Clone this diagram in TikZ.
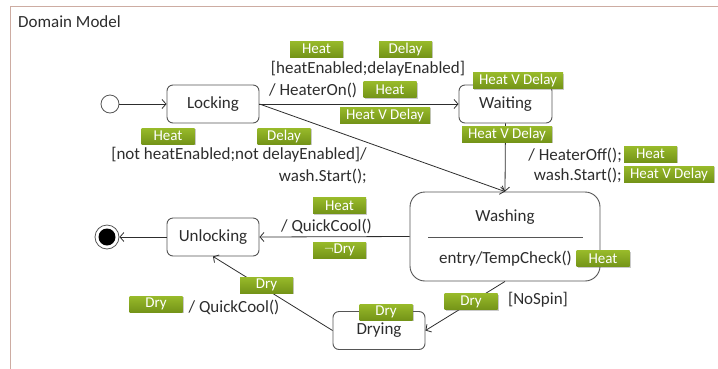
\documentclass[tikz,border=0pt]{standalone}
\usepackage{fontspec}
\setmainfont{Carlito}
\usetikzlibrary{arrows.meta,shadows}
\definecolor{tagtop}{RGB}{152,186,42}
\definecolor{tagbot}{RGB}{116,148,24}
\definecolor{ink}{RGB}{45,45,45}
\definecolor{edge}{RGB}{85,85,85}
\definecolor{framecol}{RGB}{205,172,162}

\tikzset{
  statebox/.style={draw=edge, line width=0.9pt, rounded corners=6pt, fill=white,
    minimum width=92pt, minimum height=38pt, inner sep=0pt,
    font=\fontsize{17}{20}\selectfont, text=ink},
  tag/.style={top color=tagtop, bottom color=tagbot, text=white,
    font=\fontsize{15}{17}\selectfont, minimum width=53pt, minimum height=16pt,
    inner xsep=6pt, inner ysep=0pt,
    drop shadow={opacity=0.35, shadow xshift=1.2pt, shadow yshift=-1.2pt, fill=black!60}},
  lbl/.style={text=ink, font=\fontsize{17}{20}\selectfont, inner sep=0pt},
  flow/.style={draw=ink, line width=0.8pt, -{Straight Barb[length=4pt,width=9pt]}},
}

\begin{document}
\begin{tikzpicture}[x=1pt,y=-1pt]
  \useasboundingbox (0,0) rectangle (718,368);
  % outer frame of the model
  \draw[framecol, line width=0.8pt] (10,372) -- (10,6) -- (722,6);
  \node[lbl, anchor=west] (title) at (18,22) {Domain Model};

  % states
  \node[circle, draw=edge, line width=0.8pt, fill=white, minimum size=18pt, inner sep=0pt] (init) at (110,104) {};
  \node[statebox] (locking) at (213,104) {Locking};
  \node[statebox, minimum width=93pt] (waiting) at (505.5,104) {Waiting};
  \node[statebox, minimum width=190pt, minimum height=89pt, rounded corners=15pt] (washing) at (505,236.5) {};
  \node[lbl] (washname) at (505,217) {Washing};
  \draw[edge, line width=0.9pt] (428,237) -- (583,237);
  \node[lbl] (entry) at (505.5,259) {entry/TempCheck()};
  \node[statebox] (unlocking) at (213,237) {Unlocking};
  \node[statebox] (drying) at (379,330.5) {Drying};
  \node[circle, draw=edge, line width=0.8pt, fill=white, minimum size=24pt, inner sep=0pt] (final) at (107,237) {};
  \node[circle, fill=black, minimum size=17pt, inner sep=0pt] (finaldot) at (107,237) {};

  % transitions
  \draw[flow] (init) -- (locking.west);
  \draw[flow] (locking.east) -- (waiting.west);
  \draw[flow] (locking.east) -- (washing.north);
  \draw[flow] (waiting.south) -- (washing.north);
  \draw[flow] (washing.west) -- (unlocking.east);
  \draw[flow] (unlocking.west) -- (final);
  \draw[flow] (washing.south) -- (drying.east);
  \draw[flow] (drying.west) -- (unlocking.south);

  % Locking -> Waiting
  \node[tag] (t1) at (316.5,49) {Heat};
  \node[tag] (t2) at (405.5,49) {Delay};
  \node[lbl] (g1) at (368,69) {[heatEnabled;delayEnabled]};
  \node[lbl, anchor=west] (a1) at (269,90) {/ HeaterOn()};
  \node[tag] (t3) at (390,89.5) {Heat};
  \node[tag] (t4) at (385,115) {Heat V Delay};

  % Waiting annotations
  \node[tag] (t5) at (518,80.5) {Heat V Delay};
  \node[tag] (t6) at (507,134) {Heat V Delay};

  % Locking -> Washing
  \node[tag] (t7) at (168,136) {Heat};
  \node[tag] (t8) at (284,136) {Delay};
  \node[lbl, anchor=east] (g2) at (367,155) {[not heatEnabled;not delayEnabled]/};
  \node[lbl, anchor=east] (a2) at (367,176) {wash.Start();};

  % Waiting -> Washing
  \node[lbl, anchor=east] (a3) at (622,155) {/ HeaterOff();};
  \node[tag] (t9) at (650.5,154) {Heat};
  \node[lbl, anchor=east] (a4) at (622,175) {wash.Start();};
  \node[tag] (t10) at (669,174) {Heat V Delay};

  % Washing entry action
  \node[tag] (t11) at (603,258.5) {Heat};

  % Washing -> Unlocking
  \node[tag] (t12) at (339.5,205.5) {Heat};
  \node[lbl] (a5) at (326.5,226) {/ QuickCool()};
  \node[tag] (t13) at (339.5,250) {$\neg$Dry};

  % Washing -> Drying
  \node[tag] (t14) at (471,301.5) {Dry};
  \node[lbl] (g3) at (538,300) {[NoSpin]};
  \node[tag] (t15) at (386,312) {Dry};

  % Drying -> Unlocking
  \node[tag] (t16) at (266.5,285) {Dry};
  \node[tag] (t17) at (156,304) {Dry};
  \node[lbl] (a6) at (234,307) {/ QuickCool()};
\end{tikzpicture}
\end{document}
